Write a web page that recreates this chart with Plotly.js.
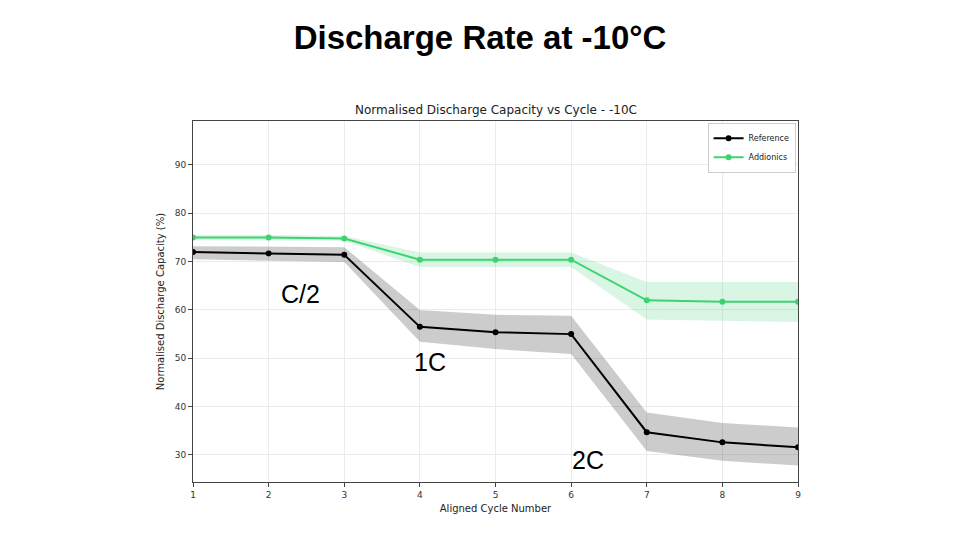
<!DOCTYPE html>
<html>
<head>
<meta charset="utf-8">
<script src="https://cdn.plot.ly/plotly-3.0.1.min.js"></script>
<style>
  html, body { margin: 0; padding: 0; background: #fff; }
  #chart { width: 960px; height: 540px; }
</style>
</head>
<body>
<div id="chart"></div>
<script>
// cycles on the x axis
var cycles = [1, 2, 3, 4, 5, 6, 7, 8, 9];

// Reference cell: mean and band
var refMean  = [72.0, 71.7, 71.4, 56.5, 55.4, 55.0, 34.7, 32.6, 31.6];
var refUpper = [73.2, 73.1, 73.0, 60.0, 59.0, 58.8, 38.8, 36.6, 35.7];
var refLower = [70.5, 70.2, 69.9, 53.4, 51.9, 50.9, 30.8, 28.8, 27.8];

// Addionics cell: mean and band
var addMean  = [75.0, 75.0, 74.8, 70.4, 70.4, 70.4, 62.0, 61.7, 61.7];
var addUpper = [75.5, 75.5, 75.3, 71.9, 71.9, 71.9, 65.8, 65.8, 65.8];
var addLower = [74.4, 74.4, 74.3, 68.9, 68.9, 68.9, 58.0, 57.7, 57.5];

// rate labels placed on the chart
var rateLabels = ['C/2', '1C', '2C'];
var rateX = [2.42, 4.13, 6.22];
var rateY = [63.2, 49.3, 29.0];

var black = '#000000';
var green = '#3dd372';

function band(lower, upper, fill) {
  return [
    {
      x: cycles, y: lower, type: 'scatter', mode: 'lines',
      line: {width: 0, color: fill}, showlegend: false, hoverinfo: 'skip'
    },
    {
      x: cycles, y: upper, type: 'scatter', mode: 'lines',
      line: {width: 0, color: fill}, fill: 'tonexty', fillcolor: fill,
      showlegend: false, hoverinfo: 'skip'
    }
  ];
}

var data = []
  .concat(band(refLower, refUpper, 'rgba(0,0,0,0.2)'))
  .concat(band(addLower, addUpper, 'rgba(61,211,114,0.2)'))
  .concat([
    {
      x: cycles, y: refMean, name: 'Reference', type: 'scatter',
      mode: 'lines+markers',
      line: {color: black, width: 2},
      marker: {color: black, size: 6}
    },
    {
      x: cycles, y: addMean, name: 'Addionics', type: 'scatter',
      mode: 'lines+markers',
      line: {color: green, width: 2},
      marker: {color: green, size: 6}
    }
  ]);

var annotations = rateLabels.map(function(t, i) {
  return {
    xref: 'x', yref: 'y', x: rateX[i], y: rateY[i],
    text: t, showarrow: false,
    xanchor: 'center', yanchor: 'middle',
    font: {family: 'Liberation Sans, Arial', size: 25, color: '#000'}
  };
});

annotations.push({
  xref: 'paper', yref: 'paper', x: 0.5, y: 1.03,
  xanchor: 'center', yanchor: 'middle',
  text: 'Normalised Discharge Capacity vs Cycle - -10C',
  showarrow: false,
  font: {family: 'DejaVu Sans', size: 12, color: '#222'}
});

var layout = {
  width: 960,
  height: 540,
  paper_bgcolor: '#ffffff',
  plot_bgcolor: '#ffffff',
  showlegend: true,
  title: {
    text: '<b>Discharge Rate at -10°C</b>',
    font: {family: 'Liberation Sans, Arial', size: 33, color: '#000'},
    x: 0.5,
    xanchor: 'center',
    y: 1 - 37 / 540,
    yanchor: 'middle'
  },
  margin: {l: 193, r: 162, t: 121, b: 58, pad: 0},
  xaxis: {
    range: [1, 9],
    tickvals: cycles,
    showgrid: true,
    gridcolor: '#ebebeb',
    zeroline: false,
    showline: true,
    mirror: true,
    linecolor: '#444',
    linewidth: 1,
    ticks: 'outside',
    ticklen: 4,
    tickcolor: '#444',
    tickfont: {family: 'DejaVu Sans', size: 9, color: '#333'},
    title: {
      text: 'Aligned Cycle Number',
      font: {family: 'DejaVu Sans', size: 10, color: '#222'},
      standoff: 6
    }
  },
  yaxis: {
    range: [24.4, 99.1],
    tickvals: [30, 40, 50, 60, 70, 80, 90],
    showgrid: true,
    gridcolor: '#ebebeb',
    zeroline: false,
    showline: true,
    mirror: true,
    linecolor: '#444',
    linewidth: 1,
    ticks: 'outside',
    ticklen: 4,
    tickcolor: '#444',
    tickfont: {family: 'DejaVu Sans', size: 9, color: '#333'},
    title: {
      text: 'Normalised Discharge Capacity (%)',
      font: {family: 'DejaVu Sans', size: 10, color: '#222'},
      standoff: 8
    }
  },
  legend: {
    x: 0.996,
    y: 0.995,
    xanchor: 'right',
    yanchor: 'top',
    traceorder: 'normal',
    bgcolor: '#ffffff',
    bordercolor: '#cccccc',
    borderwidth: 1,
    itemwidth: 30,
    tracegroupgap: 0,
    font: {family: 'DejaVu Sans', size: 8, color: '#222'}
  },
  annotations: annotations
};

Plotly.newPlot('chart', data, layout, {displayModeBar: false, staticPlot: true});
</script>
</body>
</html>
